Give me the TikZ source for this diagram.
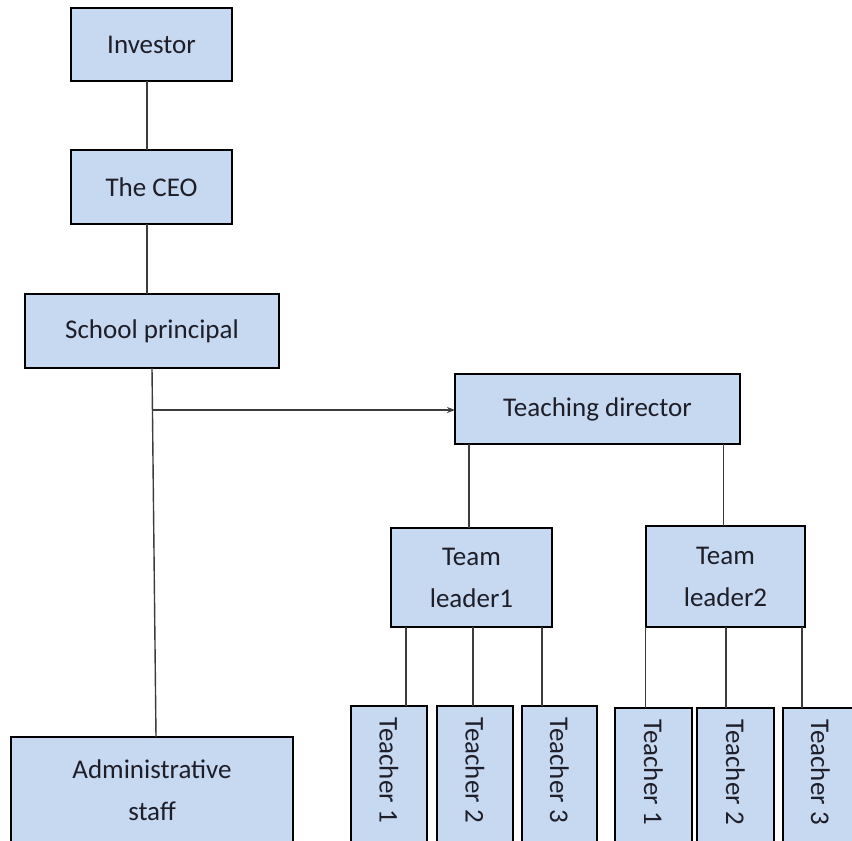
\documentclass[tikz,border=0pt]{standalone}
\usepackage{fontspec}
\usepackage{graphicx}
\setmainfont{Carlito}
\usetikzlibrary{arrows.meta}
\definecolor{boxfill}{RGB}{198,217,241}
\definecolor{linegray}{RGB}{60,60,60}
\definecolor{txt}{RGB}{30,30,40}
\tikzset{
  orgbox/.style={draw=black, line width=1.3pt, fill=boxfill, inner sep=0pt, outer sep=0pt,
    align=center, text=txt, font=\fontsize{27}{42}\selectfont},
  conn/.style={draw=linegray, line width=1.4pt},
}
\newcommand{\vtext}[1]{\rotatebox{-90}{#1\hspace*{12pt}}}
\begin{document}
\begin{tikzpicture}[x=1pt,y=-1pt]
\clip (0,0) rectangle (852,841);
\fill[white] (0,0) rectangle (852,841);
% top chain
\node[orgbox, minimum width=161pt, minimum height=73pt] (inv) at (151.5,44.5) {Investor};
\node[orgbox, minimum width=161pt, minimum height=74pt] (ceo) at (151.5,187) {The CEO};
\node[orgbox, minimum width=254pt, minimum height=74pt] (prin) at (152,331) {School principal};
\node[orgbox, minimum width=282pt, minimum height=106pt] (adm) at (152,790) {Administrative\\staff};
% teaching branch
\node[orgbox, minimum width=285pt, minimum height=70pt] (td) at (597.5,409) {Teaching director};
\node[orgbox, minimum width=161pt, minimum height=99pt] (tl1) at (471.5,577.5) {Team\\leader1};
\node[orgbox, minimum width=159pt, minimum height=101pt] (tl2) at (725.5,576.5) {Team\\leader2};
% teachers
\node[orgbox, minimum width=76pt, minimum height=140pt] (t11) at (389,776) {\vtext{Teacher 1}};
\node[orgbox, minimum width=76pt, minimum height=140pt] (t12) at (475,776) {\vtext{Teacher 2}};
\node[orgbox, minimum width=75pt, minimum height=140pt] (t13) at (559.5,776) {\vtext{Teacher 3}};
\node[orgbox, minimum width=77pt, minimum height=140pt] (t21) at (653.5,778) {\vtext{Teacher 1}};
\node[orgbox, minimum width=77pt, minimum height=140pt] (t22) at (735.5,778) {\vtext{Teacher 2}};
\node[orgbox, minimum width=75pt, minimum height=140pt] (t23) at (820.5,778) {\vtext{Teacher 3}};
% connectors
\draw[conn] ([xshift=-4.5pt]inv.south) -- ([xshift=-4.5pt]ceo.north);
\draw[conn] ([xshift=-4.5pt]ceo.north |- ceo.south) -- ([xshift=-5pt]prin.north);
\draw[conn] (prin.south) -- ([xshift=4pt]adm.north);
\coordinate (br) at ([yshift=-1pt]prin.south |- td.west);
\draw[conn, -{Stealth[length=8pt,width=6pt]}] (br) -- (td.west |- br);
\draw[conn] ([xshift=-2.5pt]tl1.north |- td.south) -- ([xshift=-2.5pt]tl1.north);
\draw[conn] ([xshift=-2pt]tl2.north |- td.south) -- ([xshift=-2pt]tl2.north);
\draw[conn] ([xshift=17pt]t11.north |- tl1.south) -- ([xshift=17pt]t11.north);
\draw[conn] ([xshift=-2pt]t12.north |- tl1.south) -- ([xshift=-2pt]t12.north);
\draw[conn] ([xshift=-17.5pt]t13.north |- tl1.south) -- ([xshift=-17.5pt]t13.north);
\draw[conn] ([xshift=-8pt]t21.north |- tl2.south) -- ([xshift=-8pt]t21.north);
\draw[conn] ([xshift=-9.5pt]t22.north |- tl2.south) -- ([xshift=-9.5pt]t22.north);
\draw[conn] ([xshift=-18.5pt]t23.north |- tl2.south) -- ([xshift=-18.5pt]t23.north);
\end{tikzpicture}
\end{document}
